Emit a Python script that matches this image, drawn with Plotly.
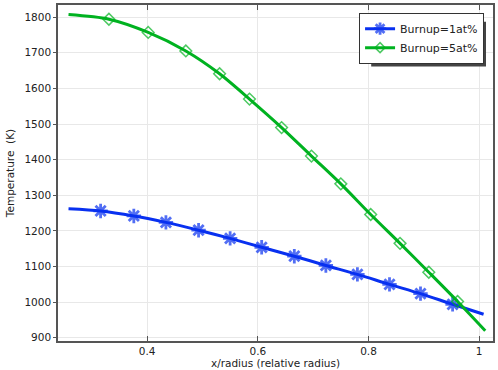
import plotly.graph_objects as go

# Data
blue_x = [0.258, 0.316, 0.376, 0.434, 0.493, 0.550, 0.607, 0.666, 0.723, 0.780, 0.838, 0.894, 0.952, 1.008]
blue_y = [1262, 1256, 1242, 1224, 1202, 1179, 1154, 1129, 1103, 1078, 1050, 1024, 994, 966]
green_x = [0.258, 0.331, 0.402, 0.470, 0.531, 0.585, 0.643, 0.697, 0.750, 0.804, 0.857, 0.909, 0.961, 1.011]
green_y = [1807, 1794, 1757, 1705, 1641, 1570, 1490, 1410, 1332, 1246, 1165, 1084, 1002, 920]
series_names = ["Burnup=1at%", "Burnup=5at%"]
x_ticks = [0.4, 0.6, 0.8, 1.0]
x_tick_labels = ["0.4", "0.6", "0.8", "1"]
y_ticks = [900, 1000, 1100, 1200, 1300, 1400, 1500, 1600, 1700, 1800]

BLUE = "rgb(8,48,240)"
GREEN = "rgb(0,178,32)"
AXC = "#555555"
TXT = "#222222"
FONT = "DejaVu Sans"

def sizes(n, s):
    return [0] + [s] * (n - 2) + [0]

fig = go.Figure()
fig.add_trace(go.Scatter(
    x=blue_x, y=blue_y, name=series_names[0], mode="lines+markers",
    line=dict(color=BLUE, width=3, shape="spline", smoothing=0.8),
    marker=dict(symbol="asterisk-open", size=sizes(len(blue_x), 12),
                color=BLUE, line=dict(color=BLUE, width=2.8)),
))
fig.add_trace(go.Scatter(
    x=green_x, y=green_y, name=series_names[1], mode="lines+markers",
    line=dict(color=GREEN, width=3, shape="spline", smoothing=0.8),
    marker=dict(symbol="diamond-open", size=sizes(len(green_x), 9),
                color=GREEN, line=dict(color=GREEN, width=1.5)),
))

xr = [0.239, 1.025]
yr = [891, 1834]

# legend drop shadow (decoration), in plot-domain fractions
fig.add_shape(type="rect", xref="paper", yref="paper",
              x0=0.72, x1=0.9839, y0=0.8168, y1=0.95,
              fillcolor="#444444", line=dict(width=0), layer="above")

fig.update_layout(
    width=498, height=370,
    margin=dict(l=57.5, r=5, t=3, b=28.5),
    paper_bgcolor="white", plot_bgcolor="white",
    font=dict(family=FONT, size=10, color=TXT),
    showlegend=True,
    legend=dict(
        x=0.979, y=0.9764, xanchor="right", yanchor="top",
        bgcolor="white", bordercolor="#333333", borderwidth=1.2,
        font=dict(family=FONT, size=11, color=TXT),
        tracegroupgap=0, itemwidth=30,
    ),
    xaxis=dict(
        range=xr, tickvals=x_ticks, ticktext=x_tick_labels,
        showgrid=True, gridcolor="#e8e8e8", gridwidth=1,
        showline=True, linecolor=AXC, linewidth=1.5, mirror="ticks",
        ticks="inside", ticklen=5, tickcolor=AXC, tickwidth=1,
        zeroline=False,
        tickfont=dict(family=FONT, size=10.5, color=TXT),
        title=dict(text="x/radius (relative radius)", standoff=2,
                   font=dict(family=FONT, size=10.5, color=TXT)),
    ),
    yaxis=dict(
        range=yr, tickvals=y_ticks,
        showgrid=True, gridcolor="#e8e8e8", gridwidth=1,
        showline=True, linecolor=AXC, linewidth=1.5, mirror=True,
        ticks="outside", ticklen=3, tickcolor=AXC, tickwidth=1,
        zeroline=False,
        tickfont=dict(family=FONT, size=10.5, color=TXT),
        title=dict(text="Temperature\u00a0 (K)", standoff=8,
                   font=dict(family=FONT, size=10.5, color=TXT)),
    ),
    yaxis2=dict(
        range=yr, tickvals=y_ticks, overlaying="y", side="right", anchor="x",
        showgrid=False, showticklabels=False, showline=False, zeroline=False,
        ticks="inside", ticklen=4, tickcolor=AXC, tickwidth=1,
    ),
)

fig.write_html(
    "out.html",
    config={"displayModeBar": False},
    post_script="document.body.style.margin='0';document.body.style.overflow='hidden';",
)
